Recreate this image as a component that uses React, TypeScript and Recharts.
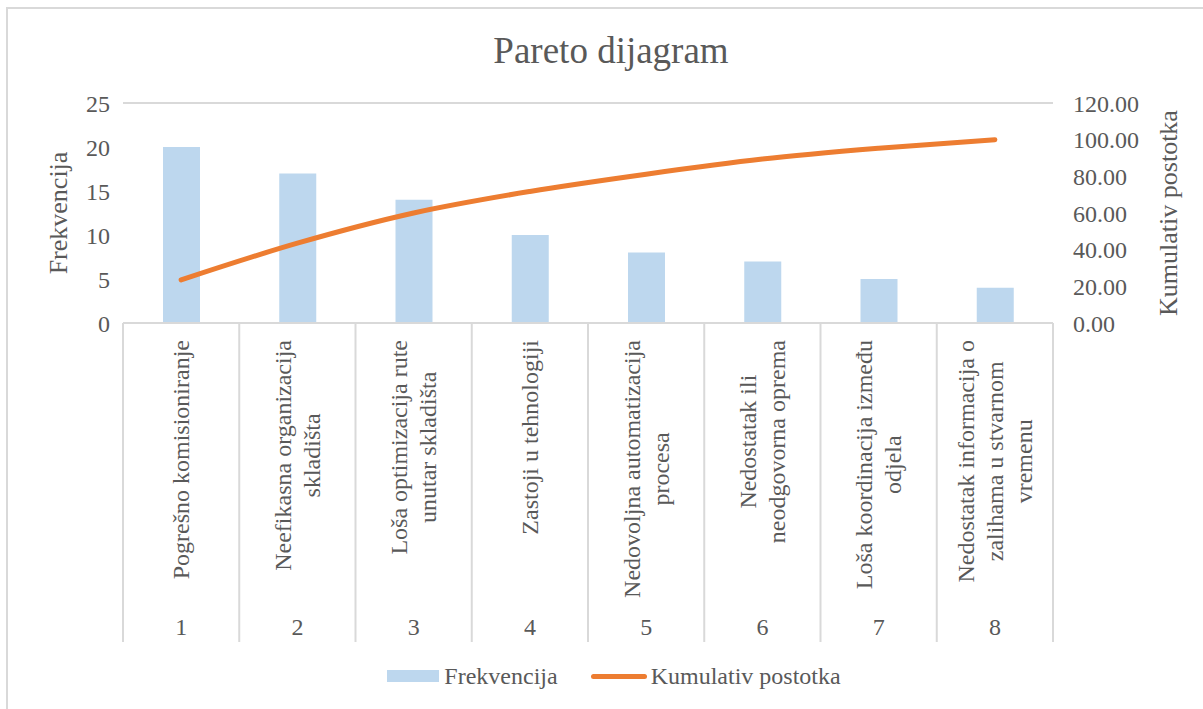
import React from "react";
import {
  ComposedChart,
  Bar,
  Line,
  XAxis,
  YAxis,
  CartesianGrid,
  Legend,
} from "recharts";

const categories = [
  "Pogrešno komisioniranje",
  "Neefikasna organizacija|skladišta",
  "Loša optimizacija rute|unutar skladišta",
  "Zastoji u tehnologiji",
  "Nedovoljna automatizacija|procesa",
  "Nedostatak ili|neodgovorna oprema",
  "Loša koordinacija između|odjela",
  "Nedostatak informacija o|zalihama u stvarnom|vremenu",
];
const frekvencija = [20, 17, 14, 10, 8, 7, 5, 4];
const kumulativ = [23.53, 43.53, 60.0, 71.76, 81.18, 89.41, 95.29, 100.0];
const leftTicks = [0, 5, 10, 15, 20, 25];
const rightTicks = [0, 20, 40, 60, 80, 100, 120];

const data = categories.map((c, i) => ({
  idx: String(i + 1),
  label: c,
  f: frekvencija[i],
  k: kumulativ[i],
}));

const FONT = "'Liberation Serif', 'Times New Roman', serif";
const GREY = "#595959";
const LINE = "#d9d9d9";
const FS = 24;

let ctx: CanvasRenderingContext2D | null = null;
const measure = (s: string) => {
  if (!ctx) ctx = document.createElement("canvas").getContext("2d");
  if (!ctx) return s.length * 11;
  ctx.font = `${FS}px ${FONT}`;
  return ctx.measureText(s).width;
};

const CategoryTick = (props: any) => {
  const { x, y, payload, index, width, visibleTicksCount } = props;
  const band = width / visibleTicksCount;
  const lines: string[] = data[index].label.split("|");
  const maxLen = Math.max(...lines.map(measure));
  const centerY = y + 17 + maxLen / 2;
  const lh = 29;
  return (
    <g>
      <line x1={x - band / 2} x2={x - band / 2} y1={y} y2={y + 319} stroke={LINE} strokeWidth={2} />
      {index === visibleTicksCount - 1 && (
        <line x1={x + band / 2} x2={x + band / 2} y1={y} y2={y + 319} stroke={LINE} strokeWidth={2} />
      )}
      {lines.map((ln, i) => {
        const lx = x + (i - (lines.length - 1) / 2) * lh;
        return (
          <text
            key={i}
            x={lx}
            y={centerY}
            transform={`rotate(-90 ${lx} ${centerY})`}
            textAnchor="middle"
            dominantBaseline="central"
            fontFamily={FONT}
            fontSize={FS}
            fill={GREY}
          >
            {ln}
          </text>
        );
      })}
      <text x={x} y={y + 304} textAnchor="middle" dominantBaseline="central" fontFamily={FONT} fontSize={FS} fill={GREY}>
        {payload.value}
      </text>
    </g>
  );
};

const LegendContent = () => (
  <div style={{ display: "flex", justifyContent: "center", alignItems: "center", fontFamily: FONT, fontSize: FS, color: GREY, height: 30, paddingLeft: 22 }}>
    <span style={{ display: "inline-block", width: 52, height: 12, background: "#BDD7EE", marginRight: 5 }} />
    <span style={{ marginRight: 33 }}>Frekvencija</span>
    <span style={{ display: "inline-block", width: 56, height: 5, borderRadius: 3, background: "#ED7D31", marginRight: 4 }} />
    <span>Kumulativ postotka</span>
  </div>
);

const axisTitle = (text: string, dx: number) => (props: any) => {
  const { viewBox } = props;
  const cx = viewBox.x + dx;
  const cy = viewBox.y + viewBox.height / 2;
  return (
    <text
      x={cx}
      y={cy}
      transform={`rotate(-90 ${cx} ${cy})`}
      textAnchor="middle"
      dominantBaseline="central"
      fontFamily={FONT}
      fontSize={26}
      fill={GREY}
    >
      {text}
    </text>
  );
};

export default function App() {
  return (
    <div style={{ position: "absolute", left: 0, top: 0, width: 1203, height: 709, background: "#fff", overflow: "hidden" }}>
      <div style={{ position: "absolute", left: 6, top: 7, width: 1300, height: 800, border: `2px solid ${LINE}`, boxSizing: "border-box" }} />
      <div style={{ position: "absolute", left: 0, width: 1222, top: 32, lineHeight: "37px", textAlign: "center", fontFamily: FONT, fontSize: 37, color: GREY }}>
        Pareto dijagram
      </div>
      <div style={{ position: "absolute", left: 0, top: 0 }}>
        <ComposedChart width={1203} height={709} data={data} margin={{ top: 103, right: 20, bottom: 18, left: 23 }}>
          <CartesianGrid vertical={false} stroke={LINE} strokeWidth={2} />
          <XAxis
            dataKey="idx"
            height={338}
            interval={0}
            tickLine={false}
            tickSize={0}
            tickMargin={0}
            axisLine={{ stroke: LINE, strokeWidth: 2 }}
            tick={<CategoryTick />}
          />
          <YAxis
            yAxisId="left"
            width={100}
            domain={[0, 25]}
            ticks={leftTicks}
            axisLine={false}
            tickLine={false}
            tickSize={0}
            tickMargin={13}
            tick={{ fill: GREY, fontSize: FS, fontFamily: FONT }}
            label={{ content: axisTitle("Frekvencija", 35) }}
          />
          <YAxis
            yAxisId="right"
            orientation="right"
            width={130}
            domain={[0, 120]}
            ticks={rightTicks}
            axisLine={false}
            tickLine={false}
            tickSize={0}
            tickMargin={20}
            tickFormatter={(v: number) => v.toFixed(2)}
            tick={{ fill: GREY, fontSize: FS, fontFamily: FONT, textAnchor: "start" }}
            label={{ content: axisTitle("Kumulativ postotka", 115) }}
          />
          <Bar yAxisId="left" dataKey="f" name="Frekvencija" fill="#BDD7EE" barSize={37} isAnimationActive={false} />
          <Line yAxisId="right" dataKey="k" name="Kumulativ postotka" type="monotone" stroke="#ED7D31" strokeWidth={5} strokeLinecap="round" dot={false} activeDot={false} isAnimationActive={false} />
          <Legend verticalAlign="bottom" content={<LegendContent />} />
        </ComposedChart>
      </div>
    </div>
  );
}
